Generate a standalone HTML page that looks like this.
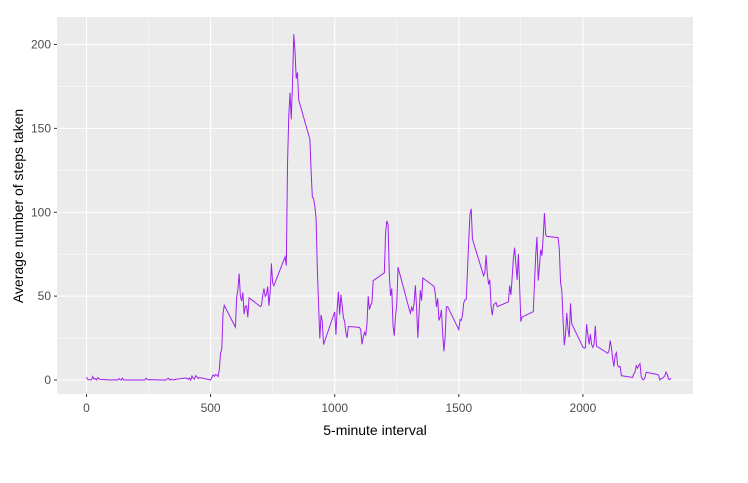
<!DOCTYPE html>
<html><head><meta charset="utf-8"><style>
body{margin:0;background:#fff;}
svg text{font-family:"Liberation Sans",Arial,sans-serif;}
</style></head><body>
<svg id="chart" width="748" height="478" xmlns="http://www.w3.org/2000/svg">
<rect x="57" y="17" width="636" height="377" fill="#ebebeb"/>
<g id="grid"></g><g id="axes"></g>
<path id="line" fill="none" stroke="#a020f0" stroke-width="1"/>
<text x="375" y="435" font-size="14" text-anchor="middle" fill="#000">5-minute interval</text>
<text transform="translate(23,206) rotate(-90)" font-size="14" text-anchor="middle" fill="#000">Average number of steps taken</text>
</svg>
<script>
const hours=[0,1,2,3,4,5,6,7,8,9,10,11,12,13,14,15,16,17,18,19,20,21,22,23];
const steps=[
[1.72,0.34,0.13,0.15,0.08,2.09,0.53,0.87,0,1.47,0.75,0.38],
[0,0.02,0.19,0.02,0,0,0.87,0.26,0,1.13,0,0.03],
[0,0,0,0,0.06,0,0,0,1.13,0.4,0,0.2],
[0,0,0,0,0,0.6,1.1,0,0.5,0.2,0,0.3],
[1.2,0.9,0.4,1.2,0,2.4,1,0.5,2.6,1.9,0.9,1.5],
[0,1.55,3.0,2.2,3.3,2.96,2.1,6.06,16.0,18.3,39.5,44.5],
[31.5,49.3,53.8,63.5,50.0,47.1,52.2,39.3,44.0,44.2,37.4,49.0],
[43.8,44.4,50.5,54.5,49.9,51.0,55.7,44.3,52.3,69.5,57.8,56.2],
[73.4,68.2,129.4,157.5,171.2,155.4,177.3,206.2,195.9,179.6,183.4,167.0],
[143.5,124.0,109.1,108.1,103.7,96.0,66.2,45.2,24.8,38.8,35.0,21.1],
[40.6,27.0,42.4,52.7,38.9,50.8,44.3,37.4,34.7,28.3,25.1,31.9],
[31.4,29.7,21.3,25.5,28.4,26.5,33.4,50.0,42.0,44.6,46.0,59.2],
[63.9,87.7,94.8,92.8,63.4,50.2,54.5,32.4,26.5,37.7,45.1,67.3],
[42.3,39.9,43.3,41.0,46.2,56.4,42.8,25.1,40.0,53.5,47.3,60.8],
[55.8,52.0,43.6,48.7,35.5,37.5,41.8,27.5,17.1,26.1,43.6,43.8],
[30.0,36.1,35.5,38.8,46.0,47.8,48.1,65.3,82.9,98.7,102.1,84.0],
[62.1,64.1,74.5,63.2,56.9,59.8,43.9,38.6,44.7,45.5,46.2,43.7],
[46.6,56.3,50.7,61.2,72.7,78.9,68.9,59.7,75.1,56.5,34.8,37.5],
[40.7,58.0,74.7,85.3,59.3,67.8,77.7,74.2,85.3,99.5,86.6,85.6],
[84.9,77.8,58.0,53.4,36.3,20.7,27.4,40.0,30.2,25.5,45.7,33.5],
[19.6,19.0,19.3,33.3,26.8,21.2,27.3,21.3,19.5,21.3,32.3,20.2],
[15.9,17.2,23.5,19.2,12.5,8.0,14.7,16.3,8.7,7.8,8.1,2.6],
[1.5,3.7,4.8,8.5,7.1,8.7,9.75,2.2,0.3,0.1,1.6,4.6],
[3.3,2.8,0,0.8,0.96,1.6,2.6,4.7,3.3,0.6,0.2,1.1]];
const xTicks=[0,500,1000,1500,2000];
const yTicks=[0,50,100,150,200];
const X=v=>86.5+v*0.2482, Y=v=>380-v*1.6775;
const NS="http://www.w3.org/2000/svg";
const grid=document.getElementById('grid'), axes=document.getElementById('axes');
function mk(p,tag,at){const e=document.createElementNS(NS,tag);for(const k in at)e.setAttribute(k,at[k]);p.appendChild(e);return e;}
for(let i=0;i<xTicks.length;i++){
 const x=X(xTicks[i]);
 const g=mk(grid,'line',{x1:x,x2:x,y1:17,y2:394,stroke:'#fff','stroke-width':1.1});
 
 
 if(i<xTicks.length-1){const m=mk(grid,'line',{x1:X(xTicks[i]+250),x2:X(xTicks[i]+250),y1:17,y2:394,stroke:'#fff','stroke-width':0.5});
 
 }
 const t=mk(axes,'line',{x1:x,x2:x,y1:394,y2:397,stroke:'#333'});
 
 
 const l=mk(axes,'text',{x:x,y:412,'font-size':12,'text-anchor':'middle',fill:'#4d4d4d'});
 l.textContent=xTicks[i];
 
 
}
{const m=mk(grid,'line',{x1:X(-250)<57?57:X(-250),x2:57,y1:0,y2:0});}
for(let i=0;i<yTicks.length;i++){
 const y=Y(yTicks[i]);
 const g=mk(grid,'line',{x1:57,x2:693,y1:y,y2:y,stroke:'#fff','stroke-width':1.1});
 
 
 if(i<yTicks.length-1){const m=mk(grid,'line',{x1:57,x2:693,y1:Y(yTicks[i]+25),y2:Y(yTicks[i]+25),stroke:'#fff','stroke-width':0.5});
 
 }
 const t=mk(axes,'line',{x1:54,x2:57,y1:y,y2:y,stroke:'#333'});
 
 
 const l=mk(axes,'text',{x:51,y:y+4,'font-size':12,'text-anchor':'end',fill:'#4d4d4d'});
 l.textContent=yTicks[i];
 
 
}
let d='';
hours.forEach((h,i)=>steps[i].forEach((v,j)=>{const iv=h*100+j*5;d+=(d?'L':'M')+X(iv).toFixed(2)+' '+Y(v).toFixed(2);}));
document.getElementById('line').setAttribute('d',d);
</script>
</body></html>
